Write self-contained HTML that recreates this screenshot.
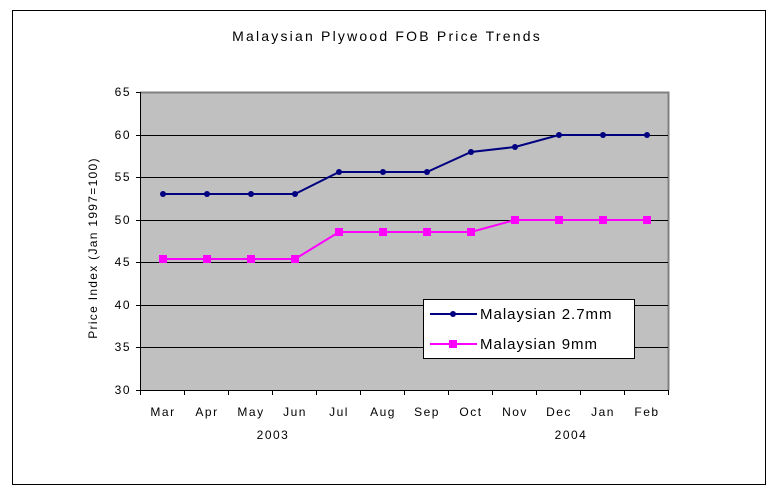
<!DOCTYPE html>
<html><head><meta charset="utf-8"><style>body{margin:0;background:#fff}svg{display:block}text{font-family:"Liberation Sans",sans-serif;font-size:12px;letter-spacing:1.5px}</style></head>
<body>
<svg width="771" height="495" viewBox="0 0 771 495">
<rect x="12.5" y="10.5" width="753" height="474" fill="#fff" stroke="#000"/>
<text x="387" y="41" text-anchor="middle" style="font-size:14px;letter-spacing:2.2px">Malaysian Plywood FOB Price Trends</text>
<rect x="140" y="92" width="528" height="298" fill="#c0c0c0"/>
<path d="M140 92.5H668.5V390" fill="none" stroke="#808080" stroke-width="2"/>
<g stroke="#000" stroke-width="1">
<path d="M140 135.5H668M140 177.5H668M140 220.5H668M140 262.5H668M140 305.5H668M140 347.5H668"/>
<path d="M140.5 92V390M136 92.5H140M136 135.5H140M136 177.5H140M136 220.5H140M136 262.5H140M136 305.5H140M136 347.5H140M136 390.5H140"/>
<path d="M140 390.5H668M140.5 390V395M184.5 390V395M228.5 390V395M272.5 390V395M316.5 390V395M360.5 390V395M404.5 390V395M448.5 390V395M492.5 390V395M536.5 390V395M580.5 390V395M624.5 390V395M668.5 390V395"/>
</g>
<g text-anchor="end">
<text x="131" y="96">65</text><text x="131" y="139">60</text><text x="131" y="181">55</text><text x="131" y="224">50</text><text x="131" y="266">45</text><text x="131" y="309">40</text><text x="131" y="351">35</text><text x="131" y="394">30</text>
</g>
<text transform="translate(97,248) rotate(-90)" text-anchor="middle" style="letter-spacing:1.3px">Price Index (Jan 1997=100)</text>
<g text-anchor="middle">
<text x="163" y="416">Mar</text><text x="207" y="416">Apr</text><text x="251" y="416">May</text><text x="295" y="416">Jun</text><text x="339" y="416">Jul</text><text x="383" y="416">Aug</text><text x="427" y="416">Sep</text><text x="471" y="416">Oct</text><text x="515" y="416">Nov</text><text x="559" y="416">Dec</text><text x="603" y="416">Jan</text><text x="647" y="416">Feb</text>
<text x="273" y="439">2003</text><text x="571" y="439">2004</text>
</g>
<polyline fill="none" stroke="#000080" stroke-width="2" points="163,194 207,194 251,194 295,194 339,172 383,172 427,172 471,152 515,147 559,135 603,135 647,135"/>
<g fill="#000080">
<circle cx="163" cy="194" r="3"/><circle cx="207" cy="194" r="3"/><circle cx="251" cy="194" r="3"/><circle cx="295" cy="194" r="3"/><circle cx="339" cy="172" r="3"/><circle cx="383" cy="172" r="3"/><circle cx="427" cy="172" r="3"/><circle cx="471" cy="152" r="3"/><circle cx="515" cy="147" r="3"/><circle cx="559" cy="135" r="3"/><circle cx="603" cy="135" r="3"/><circle cx="647" cy="135" r="3"/>
</g>
<polyline fill="none" stroke="#ff00ff" stroke-width="2" points="163,259 207,259 251,259 295,259 339,232 383,232 427,232 471,232 515,220 559,220 603,220 647,220"/>
<g fill="#ff00ff">
<rect x="159" y="255" width="8" height="8"/><rect x="203" y="255" width="8" height="8"/><rect x="247" y="255" width="8" height="8"/><rect x="291" y="255" width="8" height="8"/><rect x="335" y="228" width="8" height="8"/><rect x="379" y="228" width="8" height="8"/><rect x="423" y="228" width="8" height="8"/><rect x="467" y="228" width="8" height="8"/><rect x="511" y="216" width="8" height="8"/><rect x="555" y="216" width="8" height="8"/><rect x="599" y="216" width="8" height="8"/><rect x="643" y="216" width="8" height="8"/>
</g>
<rect x="423.5" y="299.5" width="211" height="59" fill="#fff" stroke="#000"/>
<path d="M430 314H477" stroke="#000080" stroke-width="2"/><circle cx="453" cy="314" r="3" fill="#000080"/>
<path d="M430 344H477" stroke="#ff00ff" stroke-width="2"/><rect x="449" y="340" width="8" height="8" fill="#ff00ff"/>
<text x="480" y="319" style="font-size:15px;letter-spacing:1px">Malaysian 2.7mm</text>
<text x="480" y="349" style="font-size:15px;letter-spacing:1px">Malaysian 9mm</text>
</svg>
</body></html>
